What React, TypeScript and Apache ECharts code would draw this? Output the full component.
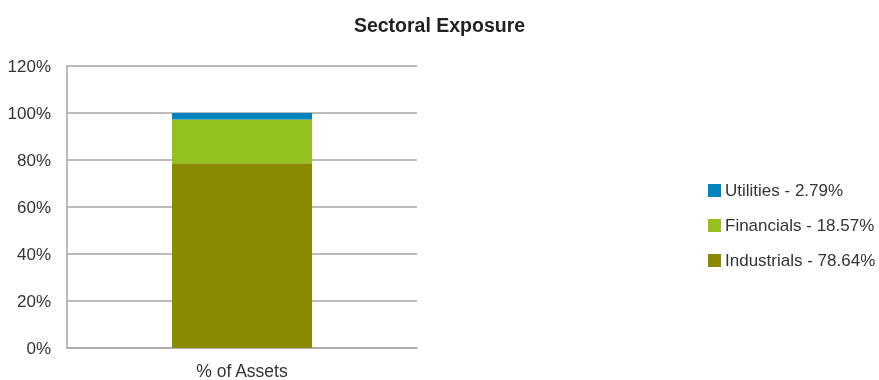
import React, { useEffect, useRef } from "react";
import * as echarts from "echarts";

const categories = ["% of Assets"];
const seriesNames = ["Industrials", "Financials", "Utilities"];
const industrials = [78.64];
const financials = [18.57];
const utilities = [2.79];
const legendLabels = ["Utilities - 2.79%", "Financials - 18.57%", "Industrials - 78.64%"];
const colors = ["#8a8a00", "#95c11f", "#0083bf"];

export default function App() {
  const ref = useRef<HTMLDivElement>(null);
  useEffect(() => {
    if (!ref.current) return;
    const chart = echarts.init(ref.current, null, { renderer: "svg" });
    const values = [industrials, financials, utilities];
    const labelMap: Record<string, string> = {
      Utilities: legendLabels[0],
      Financials: legendLabels[1],
      Industrials: legendLabels[2],
    };
    const font = "Liberation Sans, Arial, sans-serif";
    chart.setOption({
      animation: false,
      textStyle: { fontFamily: font },
      title: {
        text: "Sectoral Exposure",
        left: "center",
        top: 10,
        textStyle: { fontSize: 19.5, fontWeight: "bold", color: "#222", fontFamily: font },
      },
      legend: {
        orient: "vertical",
        left: 703,
        top: 177,
        itemWidth: 13,
        itemHeight: 13,
        itemGap: 18,
        icon: "rect",
        data: ["Utilities", "Financials", "Industrials"],
        formatter: (n: string) => labelMap[n],
        textStyle: { fontSize: 17, color: "#333", padding: [0, 0, 0, -1], fontFamily: font },
      },
      grid: { left: 67, top: 66, width: 350, height: 282, outerBoundsMode: "none", containLabel: false },
      xAxis: {
        type: "category",
        data: categories,
        axisLine: { lineStyle: { color: "#a6a6a6", width: 1.5 } },
        axisTick: { show: false },
        axisLabel: { fontSize: 17.5, color: "#333", margin: 14, fontFamily: font },
      },
      yAxis: {
        type: "value",
        min: 0,
        max: 120,
        interval: 20,
        axisLine: { show: true, lineStyle: { color: "#a6a6a6", width: 1.5 } },
        axisTick: { show: false },
        splitLine: { lineStyle: { color: "#a6a6a6", width: 1.5 } },
        axisLabel: { formatter: "{value}%", fontSize: 17, color: "#333", margin: 16, fontFamily: font },
      },
      series: seriesNames.map((name, i) => ({
        name,
        type: "bar",
        stack: "total",
        barWidth: "40%",
        data: values[i],
        itemStyle: { color: colors[i] },
      })),
    });
    return () => chart.dispose();
  }, []);
  return (
    <div
      ref={ref}
      style={{ position: "fixed", left: 0, top: 0, width: 879, height: 380 }}
    />
  );
}
